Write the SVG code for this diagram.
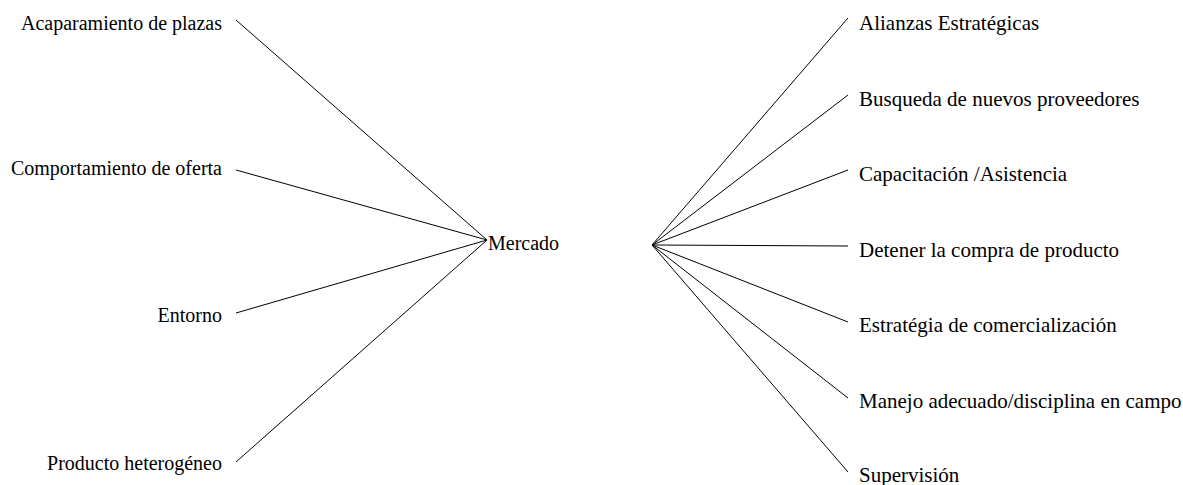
<svg xmlns="http://www.w3.org/2000/svg" width="1183" height="485" viewBox="0 0 1183 485">
<style>
line{stroke:#000;stroke-width:1}
</style>
<rect width="1183" height="485" fill="#fff"/>
<g id="connectors">
<line x1="236" y1="20" x2="487" y2="240"/>
<line x1="236" y1="170" x2="487" y2="240"/>
<line x1="236" y1="313" x2="487" y2="240"/>
<line x1="236" y1="462" x2="487" y2="240"/>
<line x1="652" y1="245" x2="848" y2="18"/>
<line x1="652" y1="245" x2="848" y2="95"/>
<line x1="652" y1="245" x2="848" y2="170"/>
<line x1="652" y1="245" x2="848" y2="246"/>
<line x1="652" y1="245" x2="848" y2="322"/>
<line x1="652" y1="245" x2="848" y2="398"/>
<line x1="652" y1="245" x2="848" y2="472"/>
</g>
<g font-family="Liberation Serif" font-size="20" fill="#000">
<g id="n-acaparamiento"><text text-anchor="end" x="222" y="30">Acaparamiento de plazas</text></g>
<g id="n-comportamiento"><text text-anchor="end" x="222" y="175">Comportamiento de oferta</text></g>
<g id="n-entorno"><text text-anchor="end" x="222" y="322">Entorno</text></g>
<g id="n-producto"><text text-anchor="end" x="222" y="470">Producto heterogéneo</text></g>
<g id="n-mercado"><text x="488" y="250">Mercado</text></g>
</g>
<g font-family="Liberation Serif" font-size="21" fill="#000">
<g id="n-alianzas"><text x="859" y="30">Alianzas Estratégicas</text></g>
<g id="n-busqueda"><text x="859" y="106">Busqueda de nuevos proveedores</text></g>
<g id="n-capacitacion"><text x="859" y="181">Capacitación /Asistencia</text></g>
<g id="n-detener"><text x="859" y="257">Detener la compra de producto</text></g>
<g id="n-estrategia"><text x="859" y="332">Estratégia de comercialización</text></g>
<g id="n-manejo"><text x="859" y="408">Manejo adecuado/disciplina en campo</text></g>
<g id="n-supervision"><text x="859" y="482">Supervisión</text></g>
</g>
</svg>
